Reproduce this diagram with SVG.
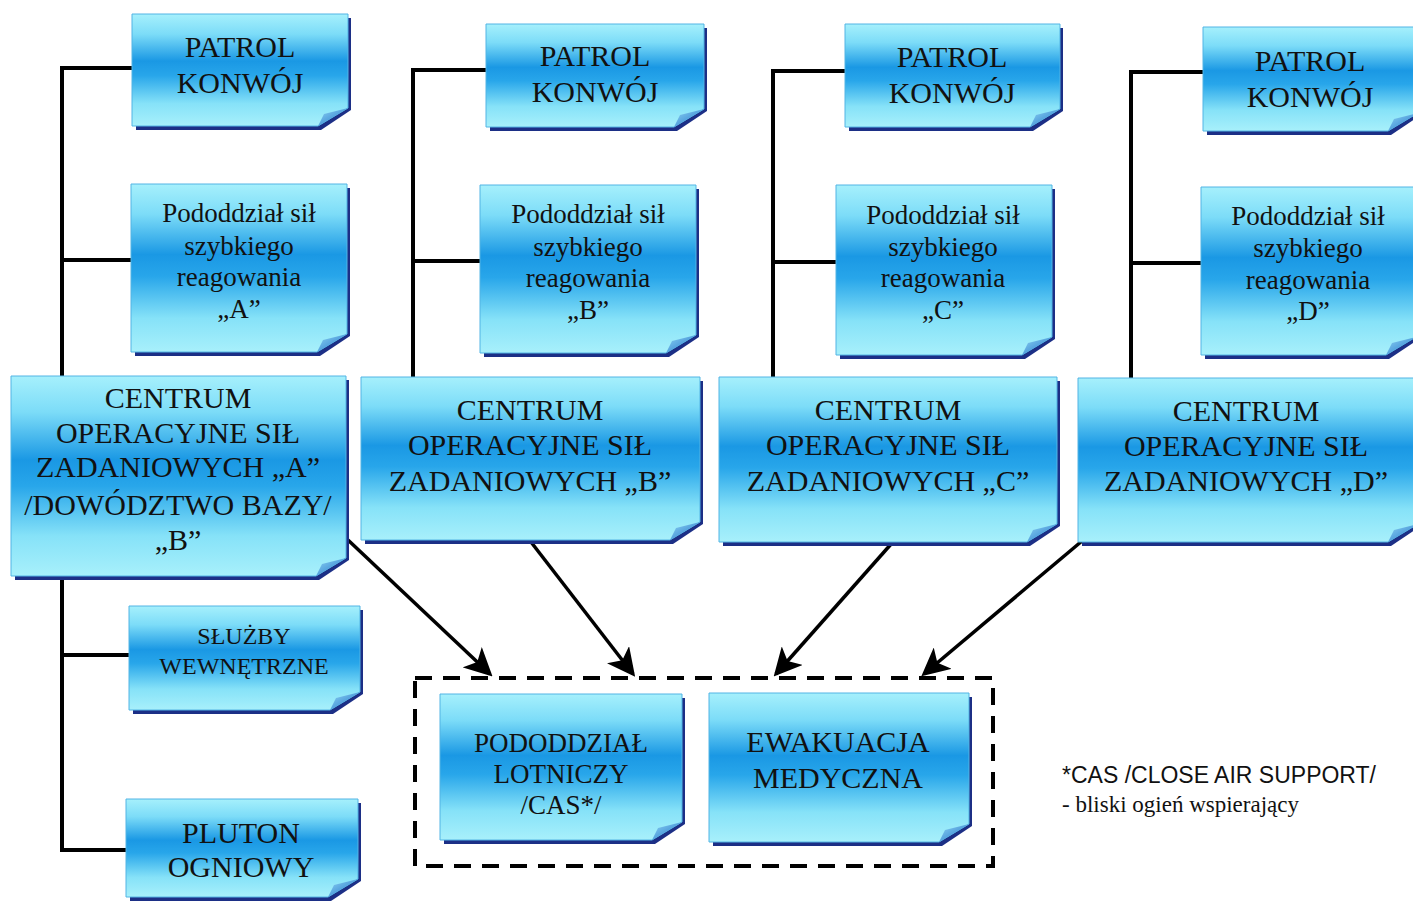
<svg xmlns="http://www.w3.org/2000/svg" width="1413" height="902" viewBox="0 0 1413 902">
<defs>
<linearGradient id="fillG" x1="0" y1="0" x2="0" y2="1">
<stop offset="0" stop-color="#a6f0fc"/>
<stop offset="0.18" stop-color="#7cdcf8"/>
<stop offset="0.42" stop-color="#1a98e4"/>
<stop offset="0.55" stop-color="#28a6ea"/>
<stop offset="0.8" stop-color="#86e2f8"/>
<stop offset="1" stop-color="#a8f0fb"/>
</linearGradient>
<linearGradient id="curlG" x1="0" y1="0" x2="1" y2="1">
<stop offset="0" stop-color="#8fd6f4"/>
<stop offset="1" stop-color="#1c6fc8"/>
</linearGradient>
<marker id="arr" markerWidth="8" markerHeight="8" refX="7" refY="4" orient="auto" markerUnits="strokeWidth">
<path d="M0,0 L8,4 L0,8 L2,4 Z" fill="#000"/>
</marker>
<style>
.sh{fill:#1c2f86}
.bx{fill:url(#fillG);stroke:#52b4e4;stroke-width:1}
.cu{fill:url(#curlG)}
.t{font-family:"Liberation Serif","Times New Roman",serif;fill:#111;text-anchor:middle}
.f30{font-size:30px}
.f27{font-size:27px}
.f24{font-size:24px}
.ln{stroke:#000;stroke-width:4;fill:none}
.ar{stroke:#000;stroke-width:3.5;fill:none}
.dash{stroke:#000;stroke-width:4;fill:none;stroke-dasharray:17 11}
.fn{fill:#111}
</style>
</defs>
<rect width="1413" height="902" fill="#fff"/>

<g id="connectors">
<path class="ln" d="M132,68 H62 V376 M62,260 H131 M62,576 V850 H126 M62,655 H129"/>
<path class="ln" d="M486,70 H413 V377 M413,261 H480"/>
<path class="ln" d="M845,71 H773 V377 M773,262 H836"/>
<path class="ln" d="M1203,72 H1131 V378 M1131,263 H1201"/>
<line class="ar" x1="348" y1="540" x2="490" y2="674" marker-end="url(#arr)"/>
<line class="ar" x1="531" y1="542" x2="633" y2="674" marker-end="url(#arr)"/>
<line class="ar" x1="892" y1="543" x2="776" y2="674" marker-end="url(#arr)"/>
<line class="ar" x1="1082" y1="541" x2="924" y2="674" marker-end="url(#arr)"/>
</g>

<g id="group-box">
<rect class="dash" x="415" y="678" width="578" height="188"/>
</g>

<g id="patrolA" transform="translate(132,14)">
<path class="sh" d="M4,4 H219 V96 L189,116 H4 Z"/>
<path class="bx" d="M0,0 H216 V94 L186,112 H0 Z"/>
<path class="cu" d="M216,94 L186,112 L192,100 Z"/>
<text class="t f30" x="108" y="43">PATROL</text>
<text class="t f30" x="108" y="79">KONWÓJ</text>
</g>
<g id="sszrA" transform="translate(131,184)">
<path class="sh" d="M4,4 H219 V152 L189,172 H4 Z"/>
<path class="bx" d="M0,0 H216 V150 L186,168 H0 Z"/>
<path class="cu" d="M216,150 L186,168 L192,156 Z"/>
<text class="t f27" x="108" y="38">Pododdział sił</text>
<text class="t f27" x="108" y="71">szybkiego</text>
<text class="t f27" x="108" y="102">reagowania</text>
<text class="t f27" x="108" y="134">„A”</text>
</g>
<g id="centrumA" transform="translate(11,376)">
<path class="sh" d="M4,4 H338 V184 L308,204 H4 Z"/>
<path class="bx" d="M0,0 H335 V182 L305,200 H0 Z"/>
<path class="cu" d="M335,182 L305,200 L311,188 Z"/>
<text class="t f30" x="167" y="32">CENTRUM</text>
<text class="t f30" x="167" y="67">OPERACYJNE SIŁ</text>
<text class="t f30" x="167" y="101">ZADANIOWYCH „A”</text>
<text class="t f30" x="167" y="139">/DOWÓDZTWO BAZY/</text>
<text class="t f30" x="167" y="174">„B”</text>
</g>
<g id="sluzby" transform="translate(129,606)">
<path class="sh" d="M4,4 H234 V88 L204,108 H4 Z"/>
<path class="bx" d="M0,0 H231 V86 L201,104 H0 Z"/>
<path class="cu" d="M231,86 L201,104 L207,92 Z"/>
<text class="t f24" x="115" y="38">SŁUŻBY</text>
<text class="t f24" x="115" y="68">WEWNĘTRZNE</text>
</g>
<g id="pluton" transform="translate(126,799)">
<path class="sh" d="M4,4 H235 V82 L205,102 H4 Z"/>
<path class="bx" d="M0,0 H232 V80 L202,98 H0 Z"/>
<path class="cu" d="M232,80 L202,98 L208,86 Z"/>
<text class="t f30" x="115" y="44">PLUTON</text>
<text class="t f30" x="115" y="78">OGNIOWY</text>
</g>

<g id="patrolB" transform="translate(486,24)">
<path class="sh" d="M4,4 H221 V87 L191,107 H4 Z"/>
<path class="bx" d="M0,0 H218 V85 L188,103 H0 Z"/>
<path class="cu" d="M218,85 L188,103 L194,91 Z"/>
<text class="t f30" x="109" y="42">PATROL</text>
<text class="t f30" x="109" y="78">KONWÓJ</text>
</g>
<g id="sszrB" transform="translate(480,185)">
<path class="sh" d="M4,4 H219 V152 L189,172 H4 Z"/>
<path class="bx" d="M0,0 H216 V150 L186,168 H0 Z"/>
<path class="cu" d="M216,150 L186,168 L192,156 Z"/>
<text class="t f27" x="108" y="38">Pododdział sił</text>
<text class="t f27" x="108" y="71">szybkiego</text>
<text class="t f27" x="108" y="102">reagowania</text>
<text class="t f27" x="108" y="134">„B”</text>
</g>
<g id="centrumB" transform="translate(361,377)">
<path class="sh" d="M4,4 H342 V147 L312,167 H4 Z"/>
<path class="bx" d="M0,0 H339 V145 L309,163 H0 Z"/>
<path class="cu" d="M339,145 L309,163 L315,151 Z"/>
<text class="t f30" x="169" y="43">CENTRUM</text>
<text class="t f30" x="169" y="78">OPERACYJNE SIŁ</text>
<text class="t f30" x="169" y="114">ZADANIOWYCH „B”</text>
</g>

<g id="patrolC" transform="translate(845,24)">
<path class="sh" d="M4,4 H218 V87 L188,107 H4 Z"/>
<path class="bx" d="M0,0 H215 V85 L185,103 H0 Z"/>
<path class="cu" d="M215,85 L185,103 L191,91 Z"/>
<text class="t f30" x="107" y="43">PATROL</text>
<text class="t f30" x="107" y="79">KONWÓJ</text>
</g>
<g id="sszrC" transform="translate(836,185)">
<path class="sh" d="M4,4 H219 V154 L189,174 H4 Z"/>
<path class="bx" d="M0,0 H216 V152 L186,170 H0 Z"/>
<path class="cu" d="M216,152 L186,170 L192,158 Z"/>
<text class="t f27" x="107" y="39">Pododdział sił</text>
<text class="t f27" x="107" y="71">szybkiego</text>
<text class="t f27" x="107" y="102">reagowania</text>
<text class="t f27" x="107" y="134">„C”</text>
</g>
<g id="centrumC" transform="translate(719,377)">
<path class="sh" d="M4,4 H341 V149 L311,169 H4 Z"/>
<path class="bx" d="M0,0 H338 V147 L308,165 H0 Z"/>
<path class="cu" d="M338,147 L308,165 L314,153 Z"/>
<text class="t f30" x="169" y="43">CENTRUM</text>
<text class="t f30" x="169" y="78">OPERACYJNE SIŁ</text>
<text class="t f30" x="169" y="114">ZADANIOWYCH „C”</text>
</g>

<g id="patrolD" transform="translate(1203,27)">
<path class="sh" d="M4,4 H218 V88 L188,108 H4 Z"/>
<path class="bx" d="M0,0 H215 V86 L185,104 H0 Z"/>
<path class="cu" d="M215,86 L185,104 L191,92 Z"/>
<text class="t f30" x="107" y="44">PATROL</text>
<text class="t f30" x="107" y="80">KONWÓJ</text>
</g>
<g id="sszrD" transform="translate(1201,187)">
<path class="sh" d="M4,4 H218 V152 L188,172 H4 Z"/>
<path class="bx" d="M0,0 H215 V150 L185,168 H0 Z"/>
<path class="cu" d="M215,150 L185,168 L191,156 Z"/>
<text class="t f27" x="107" y="38">Pododdział sił</text>
<text class="t f27" x="107" y="70">szybkiego</text>
<text class="t f27" x="107" y="102">reagowania</text>
<text class="t f27" x="107" y="133">„D”</text>
</g>
<g id="centrumD" transform="translate(1078,378)">
<path class="sh" d="M4,4 H343 V148 L313,168 H4 Z"/>
<path class="bx" d="M0,0 H340 V146 L310,164 H0 Z"/>
<path class="cu" d="M340,146 L310,164 L316,152 Z"/>
<text class="t f30" x="168" y="43">CENTRUM</text>
<text class="t f30" x="168" y="78">OPERACYJNE SIŁ</text>
<text class="t f30" x="168" y="113">ZADANIOWYCH „D”</text>
</g>

<g id="lotniczy" transform="translate(440,694)">
<path class="sh" d="M4,4 H245 V130 L215,150 H4 Z"/>
<path class="bx" d="M0,0 H242 V128 L212,146 H0 Z"/>
<path class="cu" d="M242,128 L212,146 L218,134 Z"/>
<text class="t f27" x="121" y="58">PODODDZIAŁ</text>
<text class="t f27" x="121" y="89">LOTNICZY</text>
<text class="t f27" x="121" y="120">/CAS*/</text>
</g>
<g id="ewakuacja" transform="translate(709,693)">
<path class="sh" d="M4,4 H263 V133 L233,153 H4 Z"/>
<path class="bx" d="M0,0 H260 V131 L230,149 H0 Z"/>
<path class="cu" d="M260,131 L230,149 L236,137 Z"/>
<text class="t f30" x="129" y="59">EWAKUACJA</text>
<text class="t f30" x="129" y="95">MEDYCZNA</text>
</g>

<g id="footnote">
<text class="fn" x="1062" y="783" font-size="23" font-family="Liberation Sans, Arial, sans-serif">*CAS /CLOSE AIR SUPPORT/</text>
<text class="fn" x="1062" y="812" font-size="23" font-family="Liberation Serif, Times New Roman, serif">- bliski ogień wspierający</text>
</g>
</svg>
